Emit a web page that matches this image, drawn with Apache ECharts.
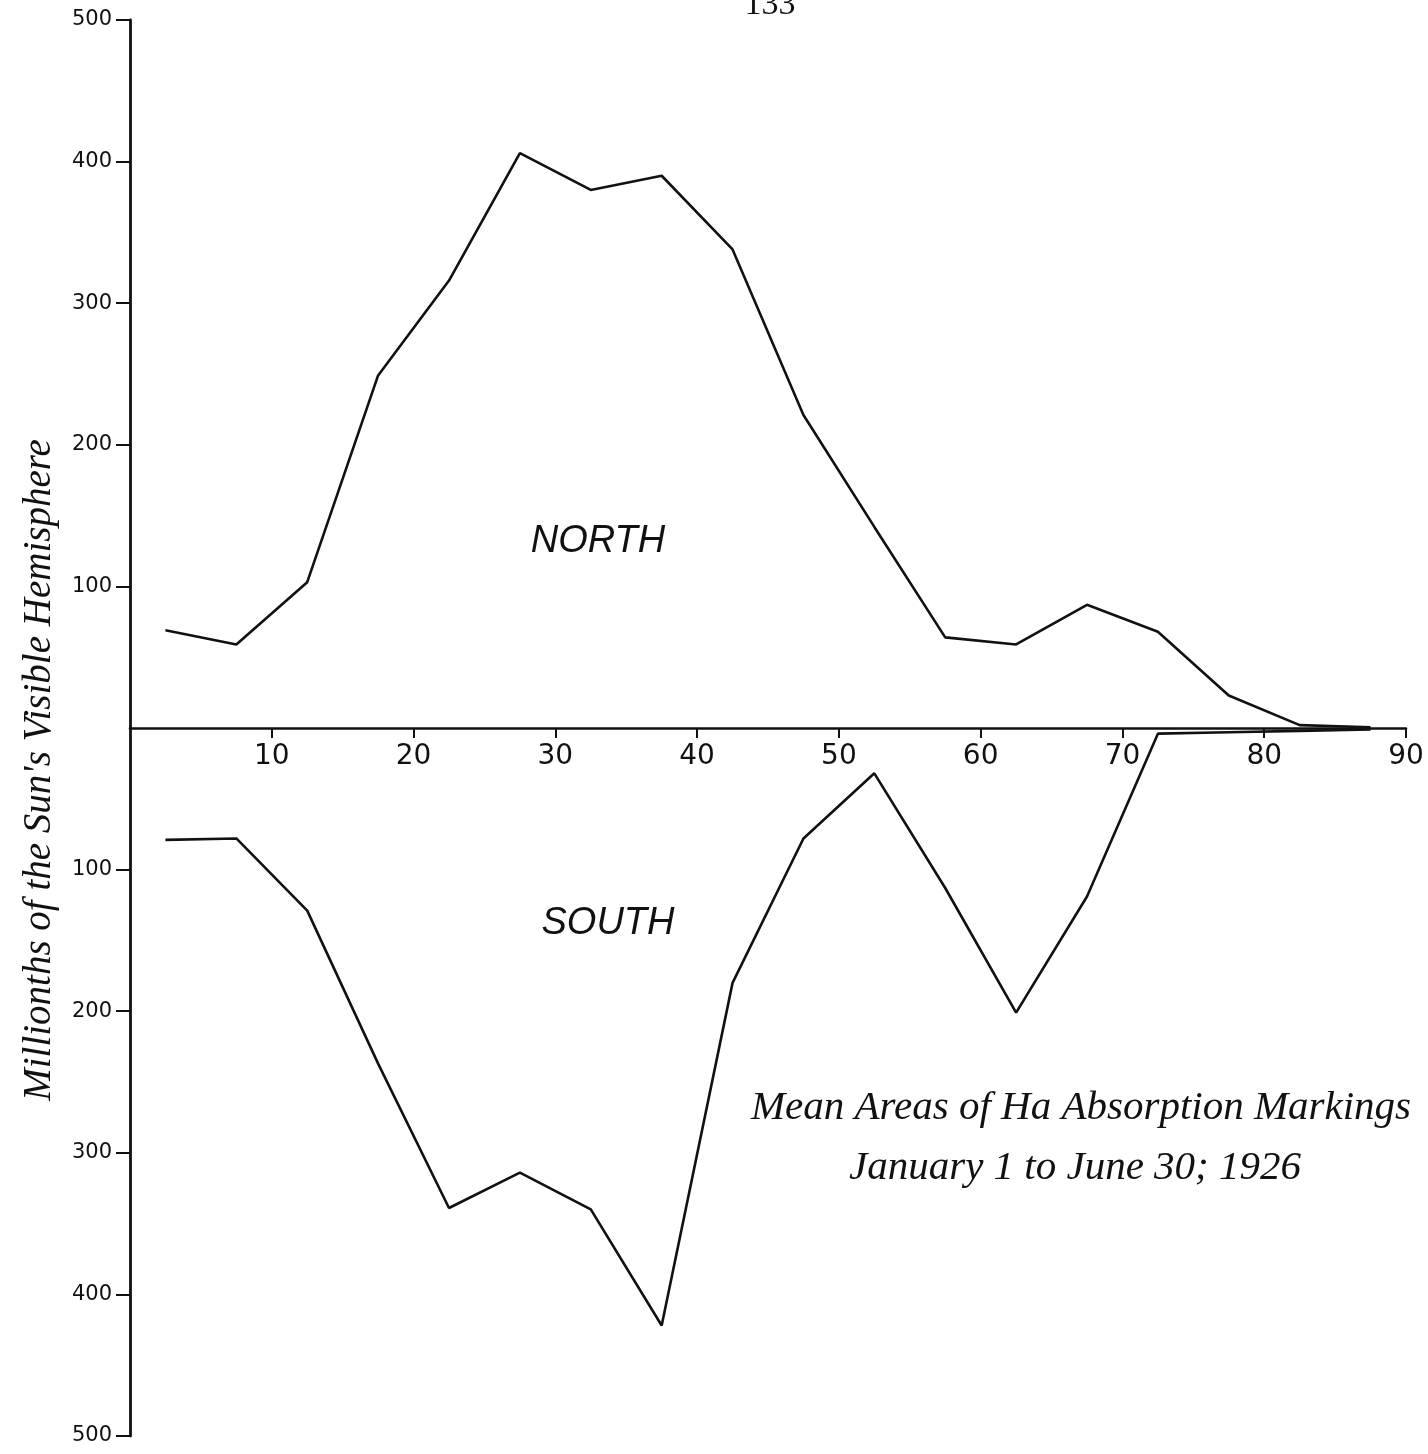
<!DOCTYPE html>
<html>
<head>
<meta charset="utf-8">
<script src="https://cdn.jsdelivr.net/npm/echarts@6/dist/echarts.min.js"></script>
<style>
html,body{margin:0;padding:0;background:#fff;}
#chart{width:1428px;height:1454px;}
</style>
</head>
<body>
<div id="chart"></div>
<script>
// Latitude (degrees), centres of 5-degree zones
const latitudes = [2.5, 7.5, 12.5, 17.5, 22.5, 27.5, 32.5, 37.5, 42.5, 47.5, 52.5, 57.5, 62.5, 67.5, 72.5, 77.5, 82.5, 87.5];
// Mean areas, millionths of the Sun's visible hemisphere
const northValues = [69, 59, 103, 249, 316, 406, 380, 390, 338, 221, 142, 64, 59, 87, 68, 23, 2, 0.5];
const southValues = [79, 78, 129, 237, 339, 314, 340, 422, 180, 78, 32, 113, 201, 119, 4, 3, 2, 1];
const xTicks = [10, 20, 30, 40, 50, 60, 70, 80, 90];
const yTicks = [-500, -400, -300, -200, -100, 100, 200, 300, 400, 500];

const titleLine1 = 'Mean Areas of Ha Absorption Markings';
const titleLine2 = 'January 1 to June 30; 1926';
const yAxisTitle = "Millionths of the Sun's Visible Hemisphere";
const pageNumber = '133';

const ink = '#111';
const W = 1428, H = 1454;
const gridTop = 20, gridBottom = 18;
const chart = echarts.init(document.getElementById('chart'), null, {renderer: 'canvas', width: W, height: H});

chart.setOption({
  backgroundColor: '#fff',
  animation: false,
  grid: {left: 130, right: 22, top: gridTop, bottom: gridBottom, containLabel: false, outerBoundsMode: 'none'},
  xAxis: {
    type: 'value',
    min: 0, max: 90,
    position: 'bottom',
    // place the axis on the zero line, in the middle of the symmetric y range
    offset: -(H - gridTop - gridBottom) / 2,
    axisLine: {onZero: false, lineStyle: {color: ink, width: 2.6}},
    axisTick: {show: true, length: 10, inside: false, customValues: xTicks, lineStyle: {color: ink, width: 2}},
    axisLabel: {customValues: xTicks, margin: 15, fontSize: 28, fontFamily: 'DejaVu Sans', color: ink},
    splitLine: {show: false}
  },
  yAxis: {
    type: 'value',
    min: -500, max: 500,
    axisLine: {show: true, onZero: false, lineStyle: {color: ink, width: 2.8}},
    axisTick: {show: true, length: 14, inside: false, customValues: yTicks, lineStyle: {color: ink, width: 2}},
    axisLabel: {customValues: yTicks, margin: 18, fontSize: 21, fontFamily: 'DejaVu Sans', color: ink,
      formatter: v => String(Math.abs(v))},
    splitLine: {show: false}
  },
  series: [
    {
      name: 'North', type: 'line', symbol: 'none',
      lineStyle: {color: ink, width: 2.6},
      data: latitudes.map((x, i) => [x, northValues[i]])
    },
    {
      name: 'South', type: 'line', symbol: 'none',
      lineStyle: {color: ink, width: 2.6},
      data: latitudes.map((x, i) => [x, -southValues[i]])
    }
  ],
  graphic: [
    {type: 'text', x: 770, y: 22, style: {text: pageNumber, font: '34px "Liberation Serif"', fill: ink, align: 'center', verticalAlign: 'bottom'}},
    {type: 'text', x: 598, y: 541, style: {text: 'NORTH', font: 'italic 38px "Liberation Sans"', fill: ink, align: 'center', verticalAlign: 'middle'}},
    {type: 'text', x: 608, y: 923, style: {text: 'SOUTH', font: 'italic 38px "Liberation Sans"', fill: ink, align: 'center', verticalAlign: 'middle'}},
    {type: 'text', x: 1081, y: 1108, style: {text: titleLine1, font: 'italic 41px "Liberation Serif"', fill: ink, align: 'center', verticalAlign: 'middle'}},
    {type: 'text', x: 1075, y: 1168, style: {text: titleLine2, font: 'italic 41px "Liberation Serif"', fill: ink, align: 'center', verticalAlign: 'middle'}},
    {type: 'text', x: 40, y: 770, rotation: Math.PI / 2, style: {text: yAxisTitle, font: 'italic 39px "Liberation Serif"', fill: ink, align: 'center', verticalAlign: 'middle'}}
  ]
});
</script>
</body>
</html>
